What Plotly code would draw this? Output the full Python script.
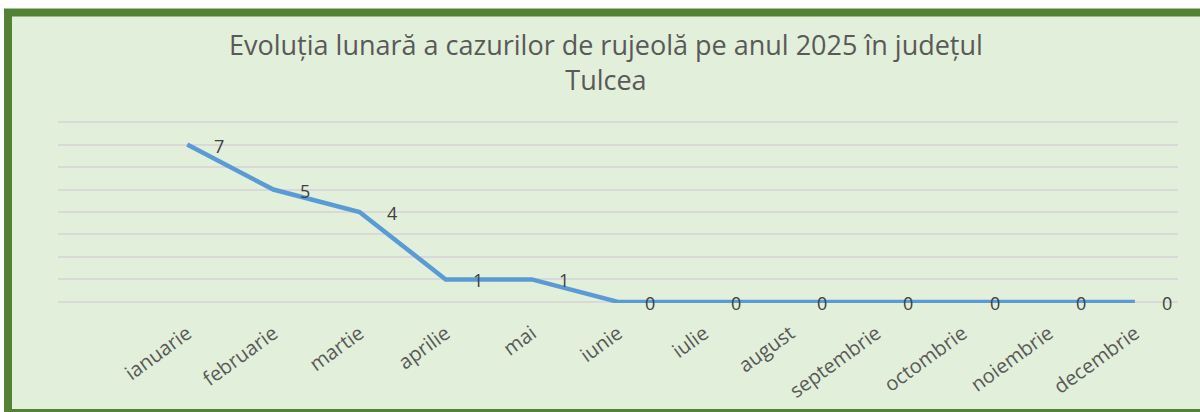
import plotly.graph_objects as go

months = ["ianuarie", "februarie", "martie", "aprilie", "mai", "iunie",
          "iulie", "august", "septembrie", "octombrie", "noiembrie", "decembrie"]
cases = [7, 5, 4, 1, 1, 0, 0, 0, 0, 0, 0, 0]
title_text = "Evoluția lunară a cazurilor de rujeolă pe anul 2025 în județul<br>Tulcea"

x_pos = list(range(1, len(months) + 1))

FONT = "Open Sans"
fig = go.Figure()
fig.add_trace(go.Scatter(
    x=x_pos, y=cases, mode="lines",
    line=dict(color="#5B9BD5", width=4.5),
    hoverinfo="skip", showlegend=False,
))

annotations = []
for xi, v in zip(x_pos, cases):
    annotations.append(dict(
        x=xi, y=v, xref="x", yref="y", text=str(v), showarrow=False,
        xshift=32, yshift=-1, font=dict(family=FONT, size=18, color="#404040"),
    ))

# plot area: left 58, right 1178, top 121, bottom 303 (px)
TOP, BOT = 121.0, 303.0
def px_x(p):
    return (p - 58) / 1120.0

def px_y(p):
    return (BOT - p) / (BOT - TOP)

annotations.append(dict(x=px_x(606), y=px_y(62), xref="paper", yref="paper",
                        text=title_text, showarrow=False,
                        font=dict(family=FONT, size=27, color="#595959"),
                        xanchor="center", yanchor="middle", align="center"))

shapes = [dict(
    type="rect", xref="paper", yref="paper", layer="below",
    x0=px_x(8), x1=px_x(1215), y0=px_y(12.5), y1=px_y(413),
    fillcolor="#E2EFDA", line=dict(color="#548235", width=8),
)]

fig.update_layout(
    width=1200, height=412,
    margin=dict(l=58, r=22, t=int(TOP), b=412 - int(BOT), pad=0, autoexpand=False),
    paper_bgcolor="white", plot_bgcolor="rgba(0,0,0,0)",
    annotations=annotations, shapes=shapes,
    xaxis=dict(
        range=[-0.5, 12.5], tickmode="array", tickvals=x_pos, ticktext=months,
        tickangle=-36, showgrid=False, zeroline=False, showline=False,
        ticks="", ticklabelstandoff=14, automargin=False,
        tickfont=dict(family=FONT, size=20, color="#595959"),
    ),
    yaxis=dict(
        range=[-0.05, 8.05], tickmode="array", tickvals=list(range(0, 9)),
        showticklabels=False, showgrid=True, automargin=False,
        gridcolor="#D9D9D9", gridwidth=1.5, zeroline=False, showline=False,
    ),
)

fig.write_html("out.html", config={"displayModeBar": False},
               post_script="document.body.style.margin='0';")
